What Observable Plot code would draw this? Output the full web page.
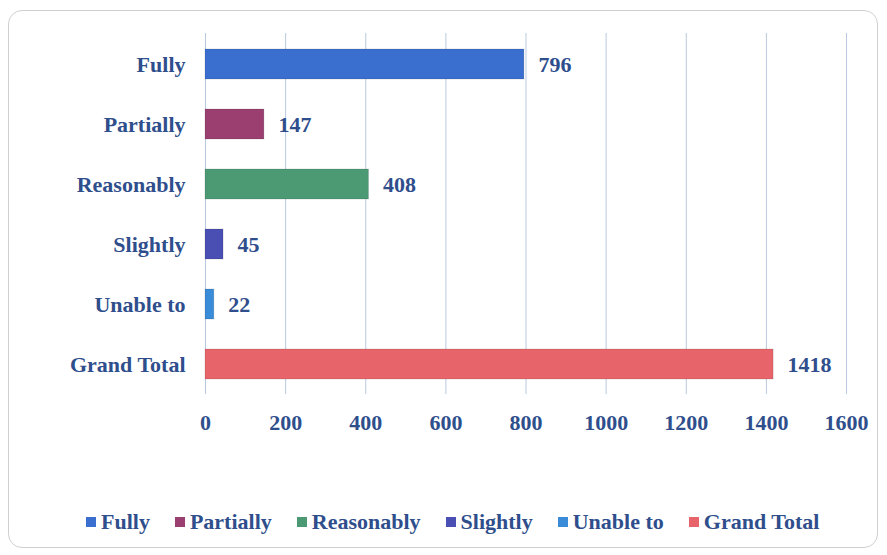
<!DOCTYPE html>
<html>
<head>
<meta charset="utf-8">
<script src="https://cdn.jsdelivr.net/npm/d3@7"></script>
<script src="https://cdn.jsdelivr.net/npm/@observablehq/plot@0.6"></script>
<style>
  html, body { margin: 0; padding: 0; background: #ffffff; }
  #wrap { position: relative; width: 887px; height: 555px; overflow: hidden; background: #fff; }
  #frame { position: absolute; left: 8px; top: 10px; width: 870px; height: 538px;
           border: 1.5px solid #cfcfcf; border-radius: 14px; box-sizing: border-box; }
  #chart { position: absolute; left: 0; top: 0; }
  #legend { position: absolute; left: 86px; top: 509px; display: flex; align-items: center;
            font-family: "Liberation Serif", serif; font-weight: bold; font-size: 22px; color: #2f4e8c; }
  .item { display: flex; align-items: center; margin-right: 25px; white-space: nowrap; }
  .sw { width: 10px; height: 10px; margin-right: 5px; }
</style>
</head>
<body>
<div id="wrap">
  <div id="frame"></div>
  <div id="chart"></div>
  <div id="legend"></div>
</div>
<script>
const categories = ["Fully", "Partially", "Reasonably", "Slightly", "Unable to", "Grand Total"];
const values = [796, 147, 408, 45, 22, 1418];
const colors = ["#3b6fcf", "#9a3f70", "#4b9a74", "#4a4fb4", "#3a8bd8", "#e8646b"];
const xTicks = [0, 200, 400, 600, 800, 1000, 1200, 1400, 1600];
const textColor = "#2f4e8c";

const data = categories.map((c, i) => ({category: c, value: values[i]}));

const chart = Plot.plot({
  width: 887,
  height: 470,
  marginLeft: 205,
  marginRight: 41,
  marginTop: 33,
  marginBottom: 76,
  style: {fontFamily: "Liberation Serif, serif", fontSize: "22px", fontWeight: "bold", color: textColor, background: "transparent"},
  x: {domain: [0, 1600], ticks: xTicks, tickSize: 0, tickPadding: 20, label: null, tickFormat: d => String(d)},
  y: {domain: categories, paddingInner: 0.5, paddingOuter: 0.25, tickSize: 0, tickPadding: 20, label: null},
  color: {domain: categories, range: colors},
  marks: [
    Plot.ruleX(xTicks, {stroke: "#b9c9df", strokeWidth: 1}),
    Plot.barX(data, {x: "value", y: "category", fill: "category", stroke: "rgba(0,0,0,0.12)", strokeWidth: 1}),
    Plot.text(data, {x: "value", y: "category", text: d => String(d.value), textAnchor: "start", dx: 14, fill: textColor})
  ]
});
document.getElementById("chart").appendChild(chart);

const legend = document.getElementById("legend");
categories.forEach((c, i) => {
  const item = document.createElement("div");
  item.className = "item";
  const sw = document.createElement("div");
  sw.className = "sw";
  sw.style.background = colors[i];
  const label = document.createElement("span");
  label.textContent = c;
  item.appendChild(sw);
  item.appendChild(label);
  legend.appendChild(item);
});
</script>
</body>
</html>
